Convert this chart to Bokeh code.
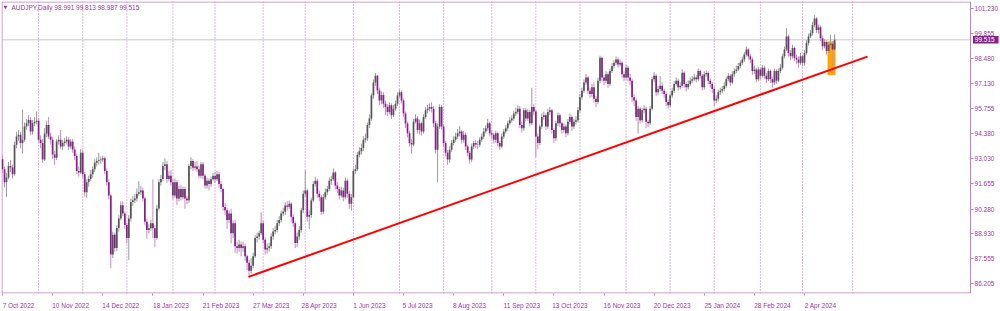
from bokeh.plotting import figure
from bokeh.models import (Range1d, FixedTicker, Label, Span, NumeralTickFormatter,
                          ColumnDataSource, LinearAxis)
from bokeh.core.properties import value
from bokeh.embed import file_html
from bokeh.resources import INLINE

# ---------------- data (AUDJPY daily) ----------------
first_open = 93.00
closes = [
    92.45, 91.74, 92.00, 92.63, 92.55, 92.18, 93.79, 94.24, 94.33, 93.88,
    94.06, 94.78, 94.96, 95.14, 94.51, 94.96, 95.05, 95.10, 94.06, 93.88,
    92.99, 94.40, 94.87, 94.24, 94.06, 93.26, 93.08, 93.97, 94.06, 93.70,
    93.88, 93.97, 94.06, 93.70, 93.97, 93.53, 93.17, 92.36, 92.27, 93.35,
    92.18, 91.20, 91.74, 91.92, 92.18, 92.45, 92.81, 92.90, 92.95, 92.99,
    93.05, 92.36, 91.74, 91.02, 87.80, 88.88, 88.16, 89.24, 89.77, 90.49,
    90.04, 89.41, 88.70, 89.77, 90.67, 90.76, 90.85, 91.11, 91.20, 91.29,
    90.85, 89.59, 89.14, 89.23, 89.50, 89.23, 88.70, 90.31, 91.74, 91.92,
    92.63, 92.72, 91.92, 92.10, 91.74, 91.02, 91.74, 90.85, 91.38, 90.93,
    91.38, 90.85, 90.76, 92.63, 92.90, 92.54, 92.60, 92.45, 92.10, 92.72,
    92.10, 91.56, 91.83, 91.65, 91.91, 92.09, 91.91, 92.18, 91.65, 91.38,
    90.39, 90.21, 89.68, 90.04, 88.96, 89.50, 88.25, 88.16, 88.35, 88.16,
    88.25, 87.71, 87.35, 86.91, 87.18, 87.71, 88.70, 88.78, 88.96, 89.50,
    88.61, 88.07, 88.16, 88.25, 88.78, 89.05, 89.14, 89.50, 89.68, 90.04,
    90.13, 90.48, 90.40, 90.57, 89.86, 89.50, 88.43, 88.78, 89.14, 90.21,
    91.11, 91.29, 89.86, 89.95, 90.75, 91.65, 91.82, 91.11, 90.93, 90.13,
    90.93, 91.20, 91.38, 91.82, 91.91, 92.27, 91.56, 91.38, 91.02, 91.29,
    90.93, 91.82, 91.11, 90.57, 90.93, 92.36, 92.45, 93.25, 93.43, 93.61,
    94.06, 94.15, 94.86, 95.22, 96.47, 97.19, 97.55, 96.75, 96.20, 96.50,
    96.03, 95.85, 95.58, 95.94, 95.40, 95.76, 96.03, 96.47, 96.65, 96.21,
    95.49, 94.95, 94.42, 93.88, 93.80, 95.04, 95.22, 94.60, 94.96, 94.51,
    95.31, 95.67, 95.76, 95.85, 95.76, 94.96, 93.52, 94.78, 95.85, 94.78,
    93.88, 93.35, 92.99, 93.52, 93.88, 94.06, 94.24, 94.42, 94.51, 94.06,
    94.33, 93.70, 93.35, 92.99, 93.70, 93.88, 93.80, 93.79, 94.06, 94.24,
    94.51, 94.69, 94.96, 94.42, 94.33, 94.06, 94.42, 93.88, 93.70, 94.24,
    94.51, 94.69, 94.96, 95.13, 95.22, 95.49, 95.58, 95.76, 94.87, 94.69,
    95.67, 95.22, 95.58, 94.96, 95.85, 95.60, 94.24, 93.88, 94.78, 95.31,
    95.40, 94.78, 95.58, 95.67, 94.60, 94.15, 94.96, 95.40, 94.96, 94.60,
    94.78, 94.42, 95.04, 95.31, 94.78, 95.04, 95.13, 95.67, 96.38, 96.74,
    97.19, 97.46, 96.74, 96.56, 96.92, 96.30, 96.12, 97.28, 98.53, 97.46,
    97.28, 97.64, 97.10, 97.82, 98.08, 98.26, 98.44, 98.17, 98.26, 97.64,
    97.46, 97.99, 97.46, 97.28, 96.38, 96.21, 95.31, 95.76, 95.13, 95.67,
    95.76, 95.04, 94.96, 95.76, 97.37, 97.55, 96.65, 96.83, 97.01, 96.74,
    96.56, 96.12, 95.94, 96.47, 96.74, 97.10, 97.28, 96.92, 97.01, 97.72,
    97.10, 96.92, 97.10, 97.28, 97.37, 97.46, 97.37, 97.81, 97.55, 96.92,
    97.64, 97.70, 97.28, 97.10, 96.83, 96.21, 96.30, 96.65, 96.74, 96.83,
    97.01, 97.37, 97.55, 97.19, 97.64, 97.81, 97.90, 98.08, 98.26, 98.44,
    98.71, 98.98, 98.62, 98.44, 97.82, 97.90, 97.37, 97.90, 97.55, 97.99,
    97.55, 97.37, 97.81, 97.37, 97.19, 97.81, 97.28, 97.81, 97.99, 98.62,
    98.98, 99.69, 98.80, 98.62, 99.07, 98.53, 98.44, 98.26, 98.62, 98.26,
    98.80, 99.34, 99.69, 99.87, 100.32, 100.68, 100.05, 100.20, 99.60, 99.16,
    99.40, 98.90, 99.25, 99.30, 98.991, 99.515,
]
highs = [
    93.20, 92.60, 92.25, 92.85, 92.95, 92.70, 93.95, 94.50, 94.60, 94.50,
    95.70, 95.00, 95.20, 95.40, 95.30, 95.15, 95.30, 95.60, 95.25, 94.30,
    94.10, 94.70, 95.10, 95.30, 94.45, 94.20, 93.45, 94.10, 94.30, 94.60,
    94.05, 94.15, 94.25, 94.20, 94.10, 94.10, 93.70, 93.30, 92.60, 93.55,
    93.50, 92.30, 91.90, 92.10, 92.40, 92.60, 93.00, 93.10, 93.35, 93.15,
    93.20, 93.15, 92.50, 91.90, 91.10, 89.05, 89.00, 89.40, 89.95, 90.70,
    90.70, 90.15, 89.55, 89.95, 90.85, 91.00, 91.10, 91.40, 91.80, 91.55,
    91.45, 90.95, 89.75, 89.45, 89.70, 91.90, 89.40, 90.50, 91.90, 92.15,
    92.85, 93.05, 92.90, 92.35, 92.40, 91.90, 91.95, 91.85, 91.55, 91.60,
    91.50, 91.50, 91.00, 92.75, 93.10, 93.00, 92.85, 92.90, 92.65, 92.85,
    92.85, 92.20, 92.00, 91.95, 92.05, 92.25, 92.30, 92.35, 92.30, 91.80,
    91.45, 90.60, 90.35, 90.20, 90.30, 89.65, 89.70, 88.50, 88.60, 88.50,
    88.50, 88.40, 87.80, 87.50, 87.60, 87.90, 88.85, 89.00, 89.10, 90.10,
    89.65, 88.75, 88.40, 88.45, 88.95, 89.25, 89.35, 89.70, 89.90, 90.20,
    90.35, 90.65, 90.70, 90.75, 90.65, 90.00, 89.60, 89.00, 89.35, 90.35,
    91.30, 92.40, 91.40, 90.20, 90.90, 91.80, 92.05, 91.95, 91.30, 91.05,
    91.10, 91.40, 91.55, 92.00, 92.10, 92.50, 92.35, 91.75, 91.50, 91.50,
    91.45, 92.00, 91.95, 91.25, 91.10, 92.50, 92.70, 93.40, 93.65, 93.85,
    94.25, 94.40, 95.00, 95.45, 96.60, 97.35, 97.70, 97.60, 96.90, 96.70,
    96.65, 96.20, 96.00, 96.10, 96.05, 95.95, 96.20, 96.65, 96.80, 96.75,
    96.30, 95.60, 95.05, 94.55, 94.10, 95.20, 95.45, 95.35, 95.15, 95.05,
    95.45, 95.85, 95.95, 96.05, 96.10, 95.90, 95.10, 94.95, 96.00, 95.95,
    94.90, 94.00, 93.50, 93.70, 94.05, 94.25, 94.45, 94.65, 94.80, 94.60,
    94.55, 94.45, 93.80, 93.45, 93.85, 94.00, 94.05, 94.00, 94.20, 94.40,
    94.70, 94.85, 95.20, 95.05, 94.60, 94.45, 94.55, 94.50, 94.00, 94.40,
    94.65, 94.85, 95.10, 95.30, 95.40, 95.65, 95.80, 95.95, 95.90, 95.05,
    95.80, 95.80, 95.75, 95.70, 96.90, 96.00, 95.70, 94.40, 94.90, 95.50,
    95.60, 95.50, 95.75, 95.85, 95.75, 94.70, 95.10, 95.55, 95.50, 95.05,
    94.95, 94.90, 95.20, 95.50, 95.40, 95.20, 95.35, 95.85, 96.55, 96.90,
    97.35, 97.65, 97.55, 96.90, 97.10, 97.20, 96.45, 97.45, 98.65, 98.60,
    97.60, 97.80, 97.75, 97.95, 98.25, 98.40, 98.60, 98.55, 98.45, 98.35,
    97.80, 98.15, 98.10, 97.65, 97.40, 96.55, 96.30, 95.90, 95.85, 95.80,
    95.95, 95.85, 95.15, 95.90, 97.50, 97.75, 97.65, 97.00, 97.55, 97.20,
    96.85, 96.70, 96.25, 96.60, 96.90, 97.25, 97.45, 97.40, 97.20, 97.90,
    97.80, 97.20, 97.30, 97.45, 97.55, 97.65, 97.60, 97.95, 97.90, 97.65,
    97.80, 97.85, 97.80, 97.40, 97.20, 96.95, 96.50, 96.80, 96.90, 97.00,
    97.20, 97.50, 97.70, 97.65, 97.80, 97.95, 98.10, 98.25, 98.40, 98.60,
    98.85, 99.15, 99.05, 98.75, 98.55, 98.10, 98.00, 98.05, 98.00, 98.15,
    98.10, 97.70, 97.95, 97.90, 97.50, 97.95, 97.90, 97.95, 98.20, 98.75,
    99.15, 100.15, 99.80, 98.95, 99.25, 99.15, 98.70, 98.60, 98.80, 98.70,
    98.95, 99.50, 99.85, 100.05, 100.50, 100.85, 100.75, 100.35, 100.30, 99.75,
    99.55, 99.50, 99.40, 99.80, 99.45, 99.813,
]
lows = [
    92.25, 91.45, 90.95, 91.90, 92.30, 91.95, 92.10, 93.60, 94.00, 93.60,
    93.30, 93.95, 94.60, 94.80, 94.30, 94.35, 94.80, 94.90, 93.90, 93.60,
    92.80, 92.90, 94.20, 94.10, 93.80, 93.00, 92.70, 92.95, 93.80, 93.55,
    93.50, 93.70, 93.80, 93.50, 93.55, 93.35, 92.95, 92.20, 92.05, 92.20,
    91.95, 90.95, 90.90, 91.50, 91.80, 92.00, 92.30, 92.60, 92.70, 92.75,
    92.85, 92.20, 91.55, 90.80, 87.05, 87.60, 87.95, 88.00, 89.05, 89.65,
    89.90, 89.20, 88.40, 87.50, 89.60, 90.45, 90.60, 90.70, 91.00, 91.05,
    90.70, 89.40, 88.65, 88.95, 89.10, 88.70, 88.20, 88.60, 90.20, 91.55,
    91.80, 92.40, 91.70, 91.80, 91.55, 90.80, 90.90, 90.50, 90.70, 90.75,
    90.80, 90.30, 90.55, 90.60, 92.45, 92.35, 92.40, 92.30, 91.95, 91.95,
    91.90, 91.40, 91.40, 91.30, 91.50, 91.80, 91.70, 91.80, 91.45, 91.20,
    90.20, 89.95, 89.20, 89.50, 88.40, 88.70, 87.90, 87.85, 87.95, 87.70,
    87.95, 87.45, 86.95, 86.50, 86.75, 87.05, 87.60, 88.45, 88.60, 88.85,
    88.40, 87.80, 87.85, 87.95, 88.10, 88.60, 88.90, 89.00, 89.35, 89.55,
    89.90, 89.95, 90.20, 90.30, 89.60, 89.30, 88.15, 88.20, 88.60, 89.00,
    90.05, 90.95, 89.60, 89.20, 89.80, 90.65, 91.50, 90.90, 90.70, 89.95,
    90.00, 90.80, 91.05, 91.25, 91.60, 91.80, 91.35, 91.15, 90.80, 90.90,
    90.70, 90.80, 90.90, 90.30, 90.20, 90.85, 92.20, 92.35, 93.10, 93.25,
    93.45, 93.90, 94.00, 94.70, 95.10, 96.30, 97.00, 96.55, 95.95, 96.00,
    95.80, 95.40, 95.35, 95.45, 95.20, 95.30, 95.65, 95.90, 96.35, 96.05,
    95.30, 94.70, 94.20, 93.70, 93.30, 93.70, 94.95, 94.40, 94.35, 94.30,
    94.40, 95.20, 95.50, 95.60, 95.55, 94.75, 93.30, 91.75, 94.65, 94.60,
    93.65, 93.15, 92.70, 92.80, 93.40, 93.75, 93.95, 94.10, 94.25, 93.85,
    93.90, 93.50, 93.15, 92.75, 92.85, 93.55, 93.60, 93.55, 93.65, 93.95,
    94.10, 94.40, 94.55, 94.25, 94.10, 93.85, 93.90, 93.70, 93.50, 93.60,
    94.10, 94.40, 94.55, 94.85, 95.00, 95.10, 95.35, 95.45, 94.70, 94.45,
    94.55, 95.05, 95.10, 94.80, 94.85, 95.40, 93.10, 93.55, 93.75, 94.65,
    95.15, 94.60, 94.65, 95.40, 94.40, 93.90, 94.00, 94.80, 94.75, 94.40,
    94.45, 94.20, 94.30, 94.90, 94.55, 94.65, 94.90, 95.00, 95.55, 96.25,
    96.60, 97.05, 96.55, 96.35, 96.40, 96.10, 95.85, 96.00, 97.15, 97.25,
    97.05, 97.15, 96.90, 97.00, 97.70, 97.95, 98.15, 98.00, 98.05, 97.45,
    97.25, 97.35, 97.25, 97.05, 96.10, 95.90, 95.10, 94.40, 94.95, 95.00,
    95.50, 94.70, 94.75, 94.85, 95.65, 97.20, 96.45, 96.50, 96.70, 96.55,
    96.35, 95.90, 95.75, 95.85, 96.35, 96.60, 97.00, 96.75, 96.80, 96.90,
    96.90, 96.70, 96.80, 97.00, 97.15, 97.25, 97.20, 97.25, 97.40, 96.75,
    96.80, 97.50, 97.10, 96.90, 96.60, 95.90, 96.05, 96.15, 96.50, 96.60,
    96.70, 96.90, 97.25, 97.00, 97.10, 97.50, 97.70, 97.80, 97.95, 98.15,
    98.30, 98.60, 98.45, 98.25, 97.60, 97.65, 97.20, 97.25, 97.35, 97.45,
    97.40, 97.15, 97.25, 97.15, 96.90, 97.05, 97.10, 97.20, 97.70, 97.90,
    98.50, 98.90, 98.60, 98.40, 98.50, 98.35, 98.20, 98.00, 98.15, 98.05,
    98.10, 98.70, 99.20, 99.60, 99.75, 100.20, 99.90, 99.85, 99.45, 98.95,
    99.05, 98.70, 98.80, 99.10, 97.78, 98.987,
]

# month separators (bar index of first bar in each month)
month_start_bars = [18, 40, 62, 85, 106, 130, 151, 175, 198, 220, 244, 266,
                    288, 311, 333, 355, 378, 399, 424]
# time axis labels and the bars they belong to
date_labels = ["7 Oct 2022", "10 Nov 2022", "14 Dec 2022", "18 Jan 2023", "21 Feb 2023",
               "27 Mar 2023", "28 Apr 2023", "1 Jun 2023", "5 Jul 2023", "8 Aug 2023",
               "11 Sep 2023", "13 Oct 2023", "16 Nov 2023", "20 Dec 2023", "25 Jan 2024",
               "28 Feb 2024", "2 Apr 2024"]
date_label_bars = [0, 25, 50, 75, 100, 125, 150, 175, 200, 225, 250, 275, 300, 325, 350, 375, 400]
# price axis ticks
price_ticks = [86.205, 87.555, 88.930, 90.280, 91.655, 93.030, 94.380, 95.755,
               97.130, 98.480, 99.855, 101.230]
last_price = 99.515
header_text = "AUDJPY,Daily  98.991 99.813 98.987 99.515"
# trend line anchors (bar index, price)
trend_bars = [122.7, 431.4]
trend_prices = [86.58, 98.60]
# highlighted rectangle (bars, prices)
box_bars = [411.5, 415.5]
box_prices = [97.58, 99.42]

# ---------------- layout / style ----------------
X_START, X_END = -0.5, 497.75     # frame spans the full width, price scale sits inside
Y_START, Y_END = 85.672, 101.606
AXIS_BAR = 482.8                 # where the price scale line is drawn
PX_PER_BAR = 2.005
PX_PER_PRICE = 18.64

TXT = "#9a3a9a"
FRAME = "#c57dc5"
SEP = "#c772c7"
BULL_BODY = "#555555"
BULL_WICK = "#9a9a9a"
BEAR_BODY = "#8b1c8b"
BEAR_WICK = "#c98ac9"
FONT = "Liberation Sans"
FS_PX = 6.5
FS = "%.1fpx" % FS_PX

opens = [first_open] + closes[:-1]
bull = dict(x=[], top=[], bottom=[], high=[], low=[])
bear = dict(x=[], top=[], bottom=[], high=[], low=[])
for i, (o, c, h, l) in enumerate(zip(opens, closes, highs, lows)):
    d = bull if c >= o else bear
    d["x"].append(i)
    d["top"].append(max(o, c))
    d["bottom"].append(min(o, c))
    d["high"].append(h)
    d["low"].append(l)

p = figure(width=1000, height=311, output_backend="svg", toolbar_location=None,
           x_range=Range1d(X_START, X_END), y_range=Range1d(Y_START, Y_END),
           x_axis_location="below", y_axis_location=None,
           min_border_left=1, min_border_top=1, min_border_right=0, min_border_bottom=13,
           background_fill_color="white", border_fill_color="white",
           outline_line_color=None)
p.grid.visible = False

# --- time axis: labels start at their bar (MT4 style) -> centre them accordingly
ARIAL_W = {" ": 0.278, "A": 0.667, "D": 0.722, "F": 0.611, "J": 0.5, "M": 0.833, "N": 0.722,
           "O": 0.778, "S": 0.667, "a": 0.556, "b": 0.556, "c": 0.5, "e": 0.556, "g": 0.556,
           "l": 0.222, "n": 0.556, "o": 0.556, "p": 0.556, "r": 0.333, "t": 0.278,
           "u": 0.556, "v": 0.5, "y": 0.5}
def text_w(s):
    return FS_PX * sum(ARIAL_W.get(ch, 0.556) for ch in s)

centers = [int(round(b + (text_w(t) / 2 - 0.7) / PX_PER_BAR)) for b, t in zip(date_label_bars, date_labels)]
xax = p.xaxis[0]
xax.ticker = FixedTicker(ticks=centers, minor_ticks=date_label_bars)
xax.major_label_overrides = {c: t for c, t in zip(centers, date_labels)}
xax.axis_line_color = None
xax.major_tick_line_color = None
xax.minor_tick_line_color = FRAME
xax.minor_tick_in = 0
xax.minor_tick_out = 2
xax.major_label_standoff = 2
xax.major_label_text_color = TXT
xax.major_label_text_font = FONT
xax.major_label_text_font_size = FS

# --- price scale on the right (fixed inside the frame so the price tag can sit on it)
yax = LinearAxis(fixed_location=AXIS_BAR)
yax.ticker = FixedTicker(ticks=price_ticks)
yax.formatter = NumeralTickFormatter(format="0.000")
yax.axis_line_color = FRAME
yax.major_tick_line_color = FRAME
yax.major_tick_out = 3
yax.major_tick_in = 0
yax.minor_tick_line_color = None
yax.major_label_text_color = TXT
yax.major_label_text_font = FONT
yax.major_label_text_font_size = FS
yax.major_label_standoff = 1
p.add_layout(yax, "right")

# --- chart frame (left, top, bottom edges)
edge_x = X_START + 0.5 / PX_PER_BAR
edge_top = Y_END - 0.5 / PX_PER_PRICE
edge_bot = Y_START + 0.5 / PX_PER_PRICE
p.multi_line(xs=[[edge_x, edge_x], [edge_x, AXIS_BAR], [edge_x, AXIS_BAR]],
             ys=[[edge_bot, edge_top], [edge_top, edge_top], [edge_bot, edge_bot]],
             line_color=FRAME, line_width=1)

for b in month_start_bars:
    p.add_layout(Span(location=b, dimension="height", line_color=SEP, line_width=1,
                      line_dash="1 2", level="underlay"))
p.line([X_START, AXIS_BAR], [last_price, last_price], line_color="#c8c8c8", line_width=1)

p.quad(left=[box_bars[0]], right=[box_bars[1]], bottom=[box_prices[0]], top=[box_prices[1]],
       fill_color="#ffa500", line_color=None)

for d, wc, bc in ((bull, BULL_WICK, BULL_BODY), (bear, BEAR_WICK, BEAR_BODY)):
    src = ColumnDataSource(d)
    p.segment(x0="x", y0="low", x1="x", y1="high", source=src, line_color=wc, line_width=1)
    p.vbar(x="x", width=0.85, top="top", bottom="bottom", source=src,
           fill_color=bc, line_color=None)

p.line(trend_bars, trend_prices, line_color="#ff0000", line_width=2)

# --- current price tag on the price scale
tag_l = AXIS_BAR + 2.5 / PX_PER_BAR
tag_r = AXIS_BAR + 28.0 / PX_PER_BAR
p.quad(left=[tag_l], right=[tag_r], bottom=[last_price - 3.8 / PX_PER_PRICE],
       top=[last_price + 3.8 / PX_PER_PRICE], fill_color=BEAR_BODY, line_color=None)
p.text(x=[tag_l + 1.8 / PX_PER_BAR], y=[last_price], text=["%.3f" % last_price],
       text_color="white", text_font=value(FONT), text_font_size=FS,
       text_baseline="middle", text_align="left")

# --- header (top-left of the chart window)
header_y = Y_END - 5.8 / PX_PER_PRICE
p.add_layout(Label(x=X_START + 2.0 / PX_PER_BAR, y=header_y, text="\u25bc",
                   text_color=TXT, text_font="DejaVu Sans", text_font_size="5px",
                   text_baseline="middle"))
p.add_layout(Label(x=X_START + 10.0 / PX_PER_BAR, y=header_y, text=header_text,
                   text_color=TXT, text_font=FONT, text_font_size=FS, text_baseline="middle"))

open("out.html", "w").write(file_html(p, INLINE))
